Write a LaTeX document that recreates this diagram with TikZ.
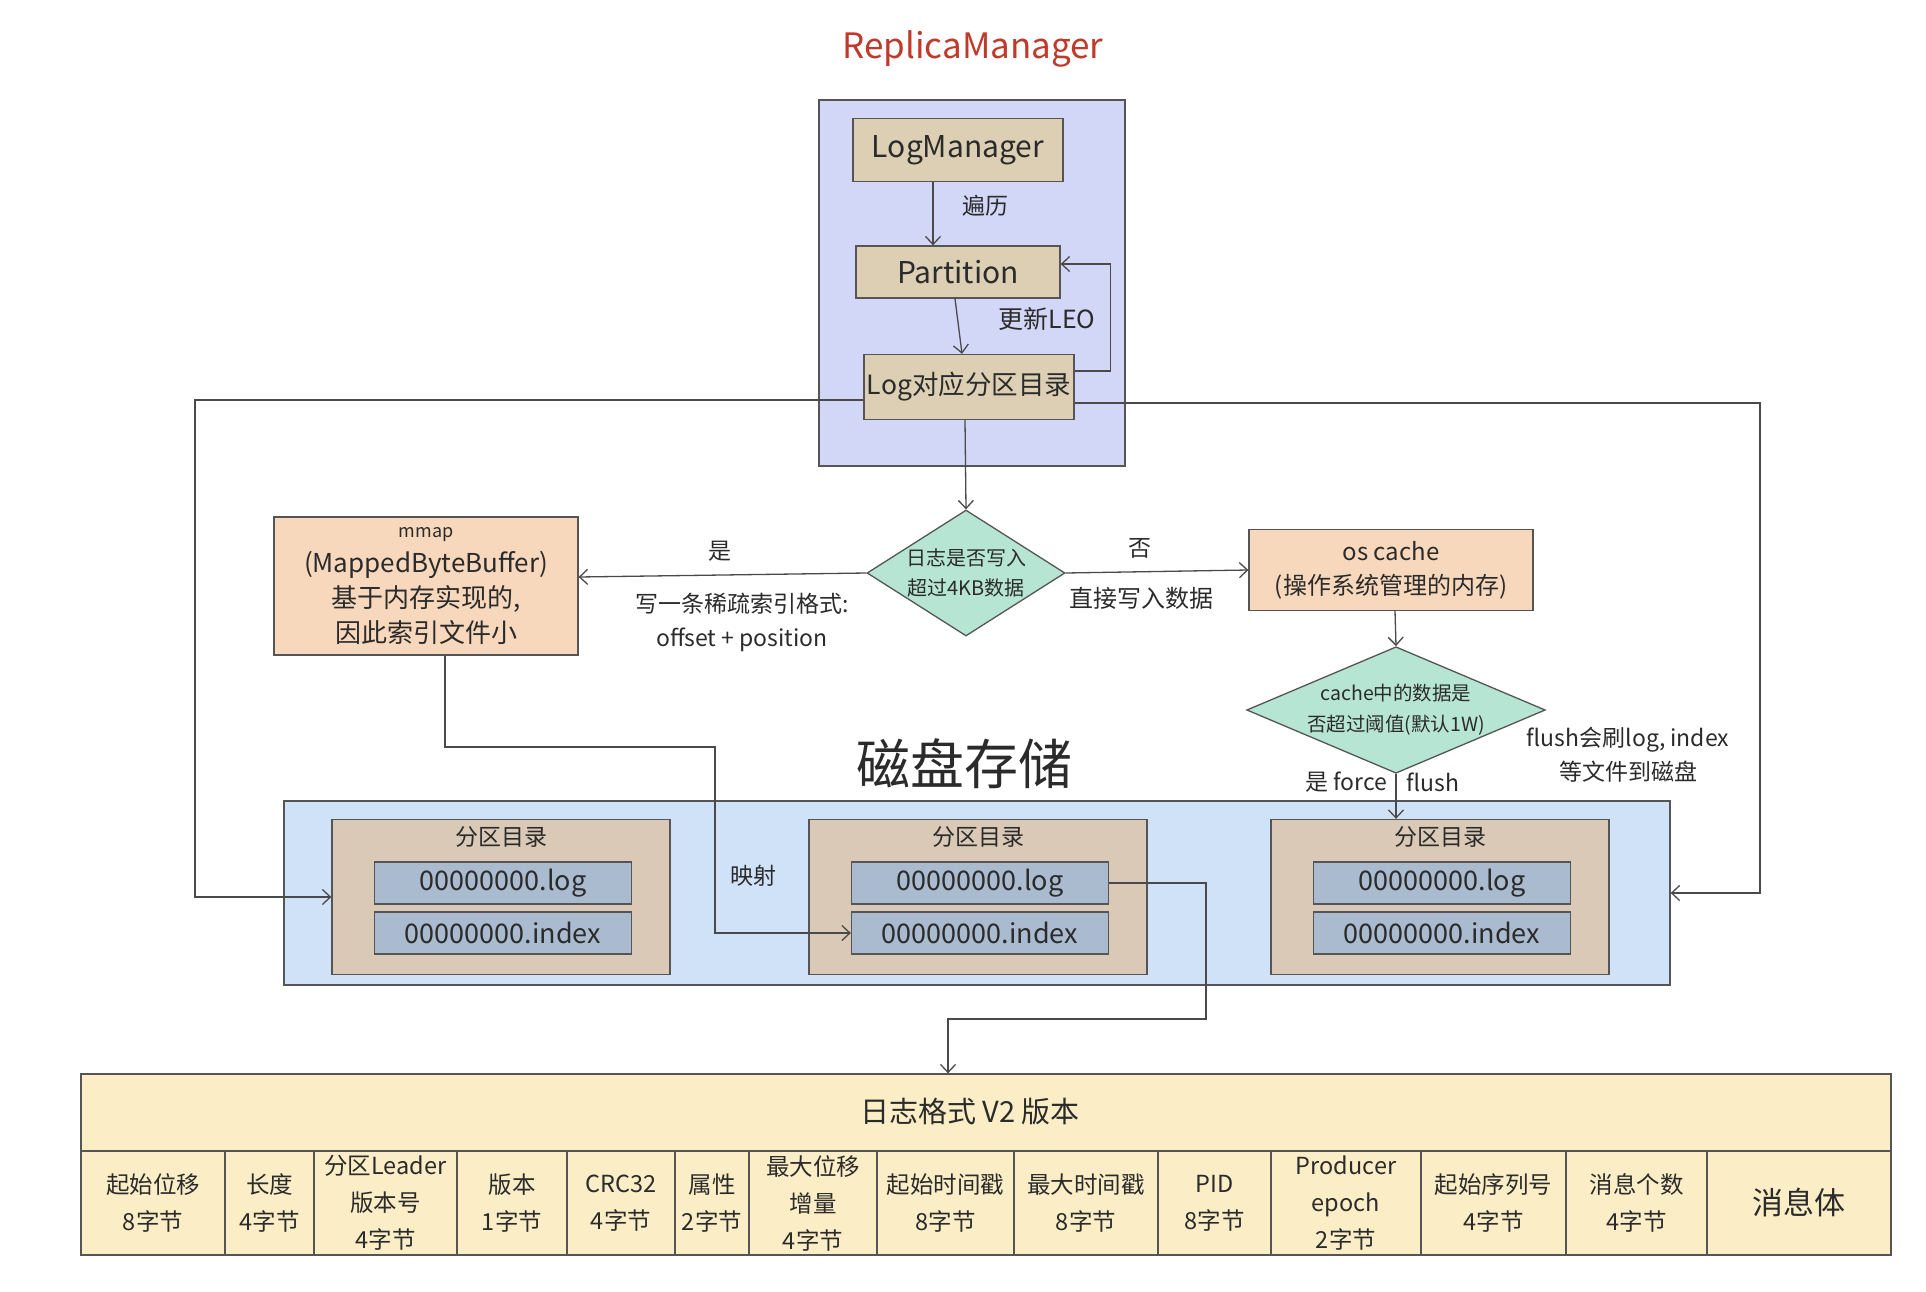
\documentclass[tikz,border=0pt]{standalone}
\usepackage{fontspec}
\setmainfont{Noto Sans CJK SC}
\usetikzlibrary{arrows.meta,positioning,shapes.geometric}
\definecolor{rmred}{HTML}{C0392B}
\definecolor{rmfill}{HTML}{D2D7F7}
\definecolor{tanfill}{HTML}{DCCFB4}
\definecolor{peach}{HTML}{F8D8BC}
\definecolor{mint}{HTML}{B6E6D3}
\definecolor{diskblue}{HTML}{CFE2F7}
\definecolor{dirtan}{HTML}{D9C9B6}
\definecolor{filegray}{HTML}{AABBD0}
\definecolor{tablefill}{HTML}{FBEDC6}
\definecolor{boxgray}{HTML}{555555}
\definecolor{linegray}{HTML}{4A4A4A}
\definecolor{txtgray}{HTML}{2B2B2B}
\begin{document}
\begin{tikzpicture}[x=1pt,y=-1pt,
    every node/.style={text=txtgray},
    box/.style={draw=boxgray,line width=1.3pt,inner sep=0pt,align=center},
    arr/.style={draw=linegray,line width=1.3pt,-{Straight Barb[length=8pt,width=15pt,line width=1.3pt]}},
    lbl/.style={font=\fontsize{23}{34}\selectfont,align=center},
    cell/.style={box,fill=tablefill,minimum height=104pt,font=\fontsize{23.5}{37}\selectfont}]
\useasboundingbox (0,0) rectangle (1926,1292);

\node[text=rmred,font=\fontsize{35}{38}\selectfont] (title) at (973,49) {ReplicaManager};
\node[box,fill=rmfill,minimum width=306pt,minimum height=366pt] (replica) at (972,283) {};
\node[box,fill=tanfill,minimum width=210pt,minimum height=63pt,font=\fontsize{30}{34}\selectfont] (logmgr) at (958,150) {LogManager};
\node[box,fill=tanfill,minimum width=204pt,minimum height=52pt,font=\fontsize{30}{34}\selectfont] (partition) at (958,272) {Partition};
\node[box,fill=tanfill,minimum width=210pt,minimum height=65pt,font=\fontsize{26.5}{30}\selectfont] (logdir) at (969,387) {Log对应分区目录};
\node[lbl] (bianli) at (985,206) {遍历};
\node[lbl,font=\fontsize{25}{30}\selectfont] (leo) at (1047,319) {更新LEO};
\draw[arr] ([xshift=-25pt]logmgr.south) -- ([xshift=-25pt]logmgr.south |- partition.north);
\draw[arr] ([xshift=-3pt]partition.south) -- ([xshift=-7pt]logdir.north);
\draw[arr] ([yshift=16pt]logdir.east) -- ++(36,0) |- ([yshift=8pt]partition.east);

\node[box,diamond,aspect=1.6,fill=mint,minimum width=198pt,minimum height=126pt,font=\fontsize{20}{30}\selectfont] (dia1) at (966,573) {日志是否写入\\超过4KB数据};
\node[box,fill=peach,minimum width=304pt,minimum height=138pt,font=\fontsize{26}{35}\selectfont] (mmap) at (426,586) {{\fontsize{18}{20}\selectfont mmap}\\(MappedByteBuffer)\\基于内存实现的,\\因此索引文件小};
\node[box,fill=peach,minimum width=284pt,minimum height=81pt,font=\fontsize{24}{34}\selectfont] (oscache) at (1391,570) {os cache\\(操作系统管理的内存)};
\node[box,diamond,aspect=2.36,fill=mint,minimum width=288pt,minimum height=122pt,font=\fontsize{19.5}{31}\selectfont] (dia2) at (1396,710) {cache中的数据是\\否超过阈值(默认1W)};

\draw[arr] ([xshift=-4pt]logdir.south) -- (dia1.north);
\draw[arr] (dia1.west) -- ([yshift=9pt]mmap.east);
\draw[arr] (dia1.east) -- (oscache.west);
\draw[arr] ([xshift=4pt]oscache.south) -- (dia2.north);

\node[lbl] (yes1) at (720,551) {是};
\node[lbl] (sparse) at (742,622) {写一条稀疏索引格式:\\offset + position};
\node[lbl] (no1) at (1140,548) {否};
\node[lbl,font=\fontsize{24}{30}\selectfont] (direct) at (1141,598) {直接写入数据};
\node[lbl] (flushnote) at (1628,755) {flush会刷log, index\\等文件到磁盘};
\node[lbl,anchor=east] (force) at (1391,782) {是 force};
\node[lbl,anchor=west] (flushb) at (1403,782) {flush};
\node[font=\fontsize{54}{60}\selectfont] (disk) at (964,764) {磁盘存储};

\node[box,fill=diskblue,minimum width=1386pt,minimum height=184pt] (storage) at (977,893) {};
\foreach \n/\x in {1/501,2/978,3/1440} {
    \node[box,fill=dirtan,minimum width=338pt,minimum height=155pt] (dir\n) at (\x,897) {};
    \node[lbl,below=4pt of dir\n.north] (dirname\n) {分区目录};
    \node[box,fill=filegray,minimum width=257pt,minimum height=42pt,font=\fontsize{27}{30}\selectfont] (log\n) at (\x+2,883) {00000000.log};
    \node[box,fill=filegray,minimum width=257pt,minimum height=42pt,font=\fontsize{27}{30}\selectfont] (idx\n) at (\x+2,933) {00000000.index};
}
\node[lbl] (mapping) at (753,876) {映射};
\draw[arr] (dia2.south) -- (dia2.south |- dir3.north);

\node[box,fill=tablefill,minimum width=1810pt,minimum height=77pt] (fmthead) at (986,1112.5) {};
\node[font=\fontsize{29}{32}\selectfont] (fmttitle) at (970,1112) {日志格式 V2 版本};
\foreach \l/\r/\t [count=\i] in {81/225/{起始位移\\8字节}, 225/314/{长度\\4字节}, 314/457/{分区Leader\\版本号\\4字节}, 457/567/{版本\\1字节}, 567/675/{CRC32\\4字节}, 675/749/{属性\\2字节}, 749/877/{最大位移\\增量\\4字节}, 877/1014/{起始时间戳\\8字节}, 1014/1158/{最大时间戳\\8字节}, 1158/1271/{PID\\8字节}, 1271/1421/{Producer\\epoch\\2字节}, 1421/1566/{起始序列号\\4字节}, 1566/1707/{消息个数\\4字节}}
    \node[cell,minimum width=(\r-\l)*1pt] (cell\i) at ({(\l+\r)/2},1203) {\t};
\node[cell,minimum width=184pt,font=\fontsize{31}{36}\selectfont] (body) at (1799,1203) {消息体};

\draw[arr] ([yshift=-13pt]logdir.west) -- (195,400) |- (dir1.west);
\draw[arr] ([yshift=-16pt]logdir.east) -- (1760,403) |- (storage.east);
\draw[arr] ([xshift=19pt]mmap.south) |- (715,747) |- (idx2.west);
\draw[arr] (log2.east) -| (1206,1019) -| ([xshift=-38pt]fmthead.north);
\end{tikzpicture}
\end{document}
